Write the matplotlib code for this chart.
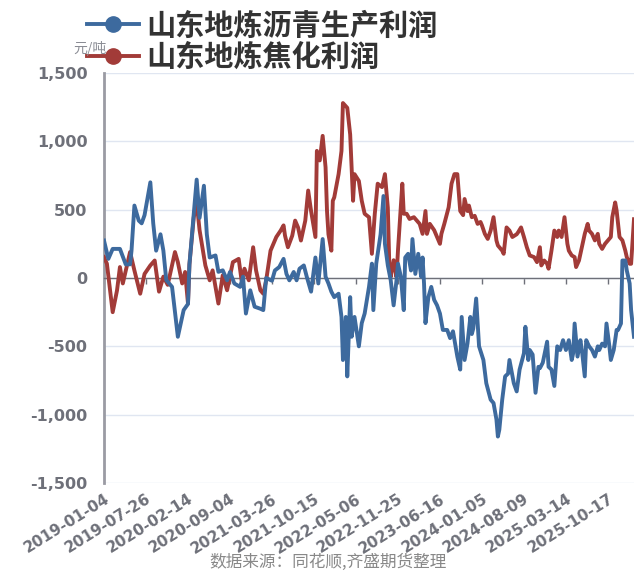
import matplotlib
matplotlib.use("Agg")
import matplotlib.pyplot as plt
import numpy as np
from matplotlib.lines import Line2D

plt.rcParams['font.family'] = ['Noto Sans CJK SC', 'DejaVu Sans']

# 类目轴：共 367 个周度数据点，每 29 个显示一个日期
n_points = 367
tick_step = 29
tick_labels = ['2019-01-04', '2019-07-26', '2020-02-14', '2020-09-04', '2021-03-26',
               '2021-10-15', '2022-05-06', '2022-11-25', '2023-06-16', '2024-01-05',
               '2024-08-09', '2025-03-14', '2025-10-17']

# 山东地炼沥青生产利润 （类目序号, 元/吨）
asph_wk = [0, 3, 6, 11, 15, 18, 19, 21, 24, 26, 28, 32, 34, 36, 39, 41, 43, 47, 51, 55,
           58, 59, 64, 66, 69, 71, 73, 77, 79, 82, 85, 87, 90, 94, 96, 98, 101, 104, 108, 110,
           112, 116, 118, 121, 124, 126, 128, 131, 133, 135, 138, 140, 143, 146, 148, 151, 153, 155, 157, 159,
           162, 164, 165, 167, 168, 170, 171, 173, 176, 178, 180, 183, 185, 186, 188, 191, 193, 194, 196, 198,
           200, 202, 203, 205, 207, 208, 210, 212, 213, 215, 217, 219, 220, 221, 222, 224, 226, 228, 230, 232,
           234, 237, 239, 241, 244, 246, 247, 249, 251, 253, 254, 255, 257, 259, 262, 264, 267, 269, 271, 272,
           273, 275, 277, 279, 280, 283, 285, 287, 290, 291, 293, 294, 296, 298, 300, 301, 303, 306, 307, 309,
           311, 313, 315, 317, 319, 321, 323, 324, 325, 327, 329, 330, 332, 333, 335, 337, 339, 341, 342, 344,
           346, 347, 349, 350, 352, 354, 355, 357, 358, 360, 361, 363, 364, 366]
asph_val = [274, 140, 213, 213, 100, 100, 200, 530, 420, 400, 460, 700, 400, 200, 320, 200, -15, -65, -430, -235,
            -190, 100, 720, 440, 675, 320, 150, 165, 45, 56, -17, 44, -40, -65, 10, -260, -90, -210, -225, -235,
            0, -20, 55, 80, 140, 30, -17, 44, -17, 68, 92, 10, -100, 150, -40, 285, 10, -40, -100, -140,
            -115, -285, -600, -285, -720, -140, -430, -285, -500, -330, -260, -65, 105, -235, 105, 320, 600, 250, 92, -17,
            -200, -17, 105, 10, -235, 150, 177, 55, 285, 30, 177, 10, 150, -40, -330, -140, -65, -160, -200, -260,
            -380, -380, -440, -390, -575, -670, -285, -600, -480, -285, -410, -370, -150, -500, -600, -770, -890, -915, -1035, -1160,
            -1110, -890, -720, -700, -600, -770, -830, -670, -550, -357, -600, -527, -560, -840, -650, -660, -620, -466, -650, -670,
            -790, -500, -527, -455, -527, -455, -600, -550, -333, -575, -455, -527, -720, -455, -500, -527, -575, -500, -527, -480,
            -500, -333, -500, -600, -527, -380, -380, -333, 128, 128, 56, -40, -235, -430]

# 山东地炼焦化利润 （类目序号, 元/吨）
coke_wk = [0, 2, 6, 9, 11, 13, 18, 21, 25, 28, 32, 35, 38, 41, 44, 49, 51, 54, 56, 58,
           59, 62, 64, 66, 70, 73, 75, 79, 82, 85, 89, 93, 95, 97, 100, 103, 105, 108, 110, 112,
           115, 117, 119, 122, 124, 125, 127, 130, 132, 134, 136, 139, 141, 143, 146, 147, 149, 151, 153, 154,
           155, 157, 158, 159, 162, 164, 165, 168, 170, 172, 173, 176, 178, 180, 183, 185, 187, 189, 192, 194,
           196, 197, 198, 200, 202, 203, 206, 207, 209, 211, 214, 216, 218, 220, 222, 223, 225, 228, 230, 232,
           233, 235, 238, 240, 242, 244, 246, 248, 249, 251, 252, 254, 256, 258, 260, 261, 263, 265, 267, 269,
           271, 272, 275, 276, 278, 280, 282, 285, 286, 288, 290, 292, 294, 297, 299, 301, 302, 304, 306, 307,
           309, 311, 313, 314, 316, 318, 320, 321, 323, 325, 326, 328, 330, 332, 334, 335, 337, 339, 341, 342,
           344, 346, 348, 350, 351, 353, 354, 356, 358, 360, 361, 363, 364, 366]
coke_val = [153, 105, -250, -90, 80, -40, 190, 55, -115, 30, 92, 128, -100, 10, -50, 190, 116, -40, 44, -187,
            100, 445, 553, 350, 92, -17, 56, -187, 20, -90, 116, 140, -17, 68, -17, 225, 56, -90, -115, -17,
            200, 250, 300, 347, 385, 310, 225, 310, 420, 370, 274, 420, 640, 490, 300, 930, 860, 1040, 810, 490,
            320, 200, 565, 590, 760, 930, 1280, 1245, 1050, 565, 760, 710, 565, 470, 445, 177, 470, 690, 665, 760,
            515, 105, 7, 130, 7, 200, 690, 470, 470, 432, 445, 420, 396, 323, 490, 323, 396, 350, 300, 250,
            323, 396, 517, 690, 760, 760, 490, 460, 578, 490, 530, 445, 455, 396, 410, 385, 323, 286, 347, 445,
            275, 238, 200, 177, 370, 347, 300, 320, 335, 370, 300, 225, 165, 153, 116, 225, 92, 128, 104, 68,
            200, 347, 300, 347, 300, 445, 250, 200, 165, 153, 80, 128, 225, 323, 396, 347, 323, 275, 323, 250,
            213, 250, 275, 300, 445, 553, 493, 300, 275, 200, 153, 104, 104, 430]

blue = '#3d6a9e'
red = '#a23b38'
grey = '#6e7079'

fig = plt.figure(figsize=(6.34, 5.73), dpi=100)
ax = fig.add_axes([104 / 634, 90 / 573, 530 / 634, 410 / 573])

ax.plot(coke_wk, coke_val, color=red, lw=2.8, solid_joinstyle='round', zorder=3)
ax.plot(asph_wk, asph_val, color=blue, lw=2.8, solid_joinstyle='round', zorder=4)

ax.set_xlim(0, n_points - 1)
ax.set_ylim(-1500, 1500)
ax.set_yticks(np.arange(-1500, 1501, 500))
ax.set_yticklabels([f'{v:,}' for v in range(-1500, 1501, 500)],
                   fontsize=11.5, fontweight='bold', color=grey, family='DejaVu Sans')
ax.yaxis.grid(True, color='#e0e6f1', lw=1)
ax.tick_params(axis='y', length=0, pad=12)

# x 轴线位于 0
ticks = np.arange(0, n_points, tick_step)
ax.set_xticks(ticks)
ax.spines['bottom'].set_position(('data', 0))
ax.spines['bottom'].set_color(grey)
ax.spines['bottom'].set_linewidth(1)
ax.tick_params(axis='x', length=4, width=1, color=grey, labelbottom=False)
for s in ['top', 'right']:
    ax.spines[s].set_visible(False)
ax.spines['left'].set_color('#9a9ba3')
ax.spines['left'].set_linewidth(2)

sec = ax.secondary_xaxis('bottom')
sec.set_xticks(ticks)
sec.set_xticklabels(tick_labels, rotation=32, ha='right', va='top', rotation_mode='anchor',
                    fontsize=11, fontweight='bold', color=grey, family='DejaVu Sans')
sec.tick_params(length=0, pad=6)
sec.spines['bottom'].set_visible(False)

fig.text(73 / 634, 1 - 49 / 573, '元/吨', fontsize=10, color='#8a8c94', va='center', ha='left', zorder=1)

handles = [Line2D([], [], color=blue, lw=2.8, marker='o', markersize=11),
           Line2D([], [], color=red, lw=2.8, marker='o', markersize=11)]
leg = ax.legend(handles, ['山东地炼沥青生产利润', '山东地炼焦化利润'], loc='upper left',
                bbox_to_anchor=(72 / 634, 1 + 4 / 573), bbox_transform=fig.transFigure,
                frameon=False, borderpad=0, handlelength=1.8, handletextpad=0.25,
                labelspacing=0.05, prop={'size': 21, 'weight': 'bold'})
for t in leg.get_texts():
    t.set_color('#333333')

fig.text(328 / 634, 1 - 562 / 573, '数据来源：同花顺,齐盛期货整理', fontsize=12,
         color='#888888', ha='center', va='center')

fig.savefig('out.png', dpi=100)
